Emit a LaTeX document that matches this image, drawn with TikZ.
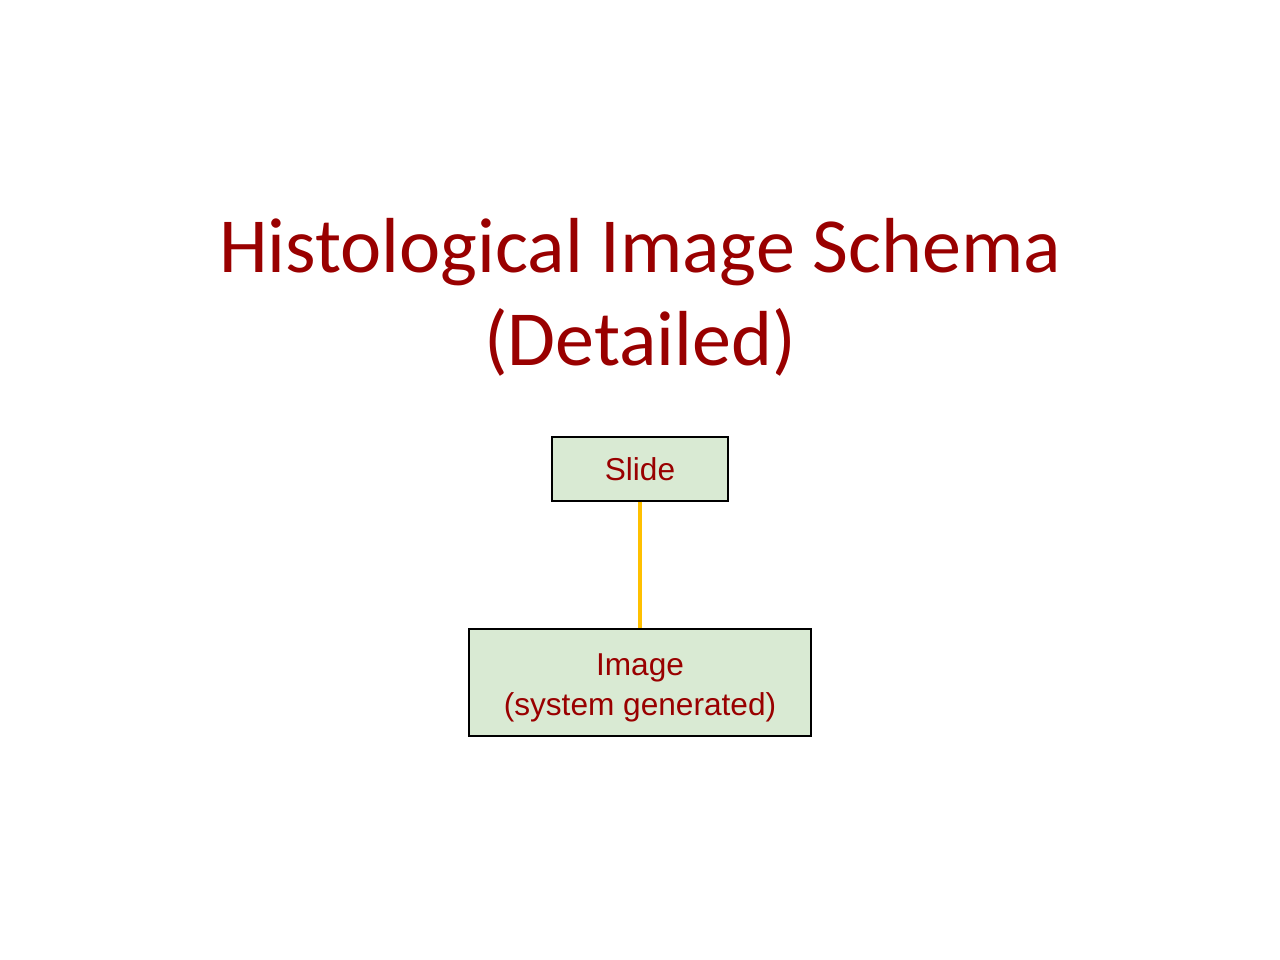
\documentclass[tikz,border=0pt]{standalone}
\usepackage{fontspec}
\setmainfont{Liberation Sans}
\newfontfamily\titlefont{Carlito}
\usepackage{xcolor}
\usepackage{tikz}
\usetikzlibrary{positioning}

\definecolor{titlered}{RGB}{153,0,0}
\definecolor{boxgreen}{RGB}{217,234,211}
\definecolor{linkyellow}{RGB}{255,192,0}

\tikzset{
    entity/.style={draw=black, fill=boxgreen, text=titlered, align=center,
        font=\fontsize{18}{22.5}\selectfont, inner sep=0pt, line width=0.6pt},
    link/.style={draw=linkyellow, line width=2.2pt}
}

\begin{document}
\begin{tikzpicture}
        \useasboundingbox (0,0) rectangle (25.6,19.2);

        \node[text=titlered, align=center, font=\titlefont\fontsize{44.4}{53}\selectfont] (title) at (12.8,13.25) {Histological Image Schema\\(Detailed)};

        \node[entity, minimum width=3.52cm, minimum height=1.28cm] (slide) at (12.8,9.82) {Slide};
        \node[entity, minimum width=6.84cm, minimum height=2.14cm, text height=41pt] (image) at (12.8,5.55) {Image\\(system generated)};

        % Slide -> Image
        \draw[link] (slide) -- (image);
    \end{tikzpicture}
\end{document}
